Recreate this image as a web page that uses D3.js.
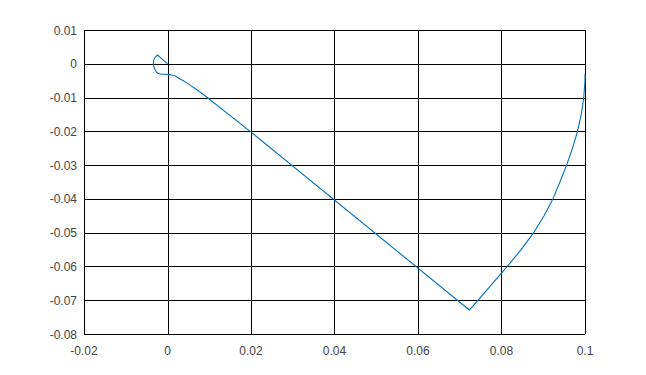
<!DOCTYPE html>
<html>
<head>
<meta charset="utf-8">
<script src="https://cdn.jsdelivr.net/npm/d3@7"></script>
<style>
  body { margin: 0; background: #fff; }
  svg { display: block; }
</style>
</head>
<body>
<svg width="646" height="375"></svg>
<script>
var svg = d3.select("svg"),
    width = +svg.attr("width"),
    height = +svg.attr("height");

var margin = {top: 30, right: 61, bottom: 41, left: 84};

// trajectory
var xs = [0, -0.0012, -0.0024, -0.003, -0.0033, -0.0034, -0.0033, -0.003, -0.0026, -0.0022, -0.0015, -0.0006,
          0.0004, 0.0012, 0.002, 0.0026, 0.0040, 0.0055, 0.0070, 0.0086,
          0.0198, 0.0723, 0.0744, 0.0772, 0.08, 0.0814, 0.0847, 0.0877, 0.0902, 0.0923, 0.0940, 0.0956,
          0.0970, 0.0982, 0.0991, 0.0997, 0.1, 0.1];
var ys = [0, 0.0013, 0.0026, 0.0019, 0.0011, 0.0002, -0.0008, -0.0017, -0.0025, -0.0029, -0.0031, -0.0031,
          -0.0032, -0.0034, -0.0037, -0.0042, -0.0052, -0.0064, -0.0077, -0.0091,
          -0.02, -0.0729, -0.07, -0.066, -0.062, -0.06, -0.055, -0.05, -0.045, -0.04, -0.035, -0.03,
          -0.025, -0.02, -0.015, -0.01, -0.005, -0.003];

var xTicks = [-0.02, 0, 0.02, 0.04, 0.06, 0.08, 0.1];
var yTicks = [0.01, 0, -0.01, -0.02, -0.03, -0.04, -0.05, -0.06, -0.07, -0.08];

var x = d3.scaleLinear().domain([-0.02, 0.1]).range([margin.left, width - margin.right]);
var y = d3.scaleLinear().domain([-0.08, 0.01]).range([height - margin.bottom, margin.top]);

var crisp = v => Math.round(v) + 0.5;

// grid
svg.append("g").selectAll("line").data(xTicks).enter().append("line")
  .attr("x1", d => crisp(x(d))).attr("x2", d => crisp(x(d)))
  .attr("y1", y(0.01)).attr("y2", y(-0.08))
  .attr("stroke", "#000").attr("stroke-width", 1);

svg.append("g").selectAll("line").data(yTicks).enter().append("line")
  .attr("y1", d => crisp(y(d))).attr("y2", d => crisp(y(d)))
  .attr("x1", x(-0.02)).attr("x2", x(0.1))
  .attr("stroke", "#000").attr("stroke-width", 1);

// tick labels
svg.append("g").selectAll("text").data(xTicks).enter().append("text")
  .attr("x", d => x(d))
  .attr("y", 355)
  .attr("text-anchor", "middle")
  .attr("font-family", "Liberation Sans, Arial, sans-serif")
  .attr("font-size", 12)
  .attr("fill", "#444")
  .text(d => String(+d.toFixed(2)));

svg.append("g").selectAll("text").data(yTicks).enter().append("text")
  .attr("x", x(-0.02) - 7)
  .attr("y", d => y(d) + 4.5)
  .attr("text-anchor", "end")
  .attr("font-family", "Liberation Sans, Arial, sans-serif")
  .attr("font-size", 12)
  .attr("fill", "#444")
  .text(d => String(+d.toFixed(2)));

// data line
var pts = d3.zip(xs, ys);
var line = d3.line()
  .x(d => x(d[0]))
  .y(d => y(d[1]));

svg.append("path")
  .datum(pts)
  .attr("d", line)
  .attr("fill", "none")
  .attr("stroke", "#0072BD")
  .attr("stroke-width", 1.1)
  .attr("stroke-linejoin", "round");
</script>
</body>
</html>
